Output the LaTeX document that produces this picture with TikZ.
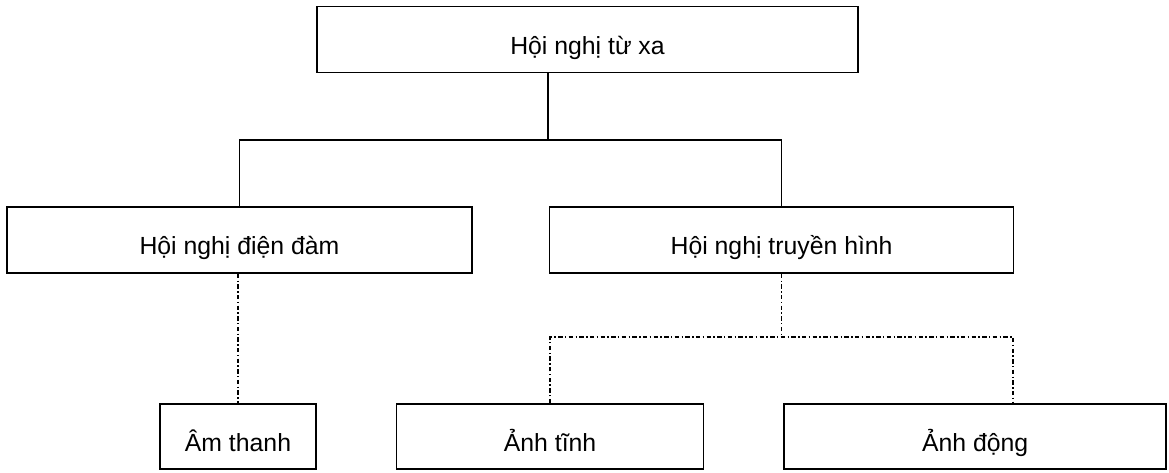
\documentclass[tikz,border=0pt]{standalone}
\usepackage{fontspec}
\setmainfont{Liberation Sans}
\usetikzlibrary{positioning}

\begin{document}
\begin{tikzpicture}[
    x=0.5pt, y=-0.5pt,
    box/.style={draw, line width=0.8pt, minimum height=33pt, inner sep=2pt, text height=16pt, text depth=1.5pt, align=center, font=\fontsize{12.4}{14}\selectfont},
    link/.style={line width=0.8pt},
    sublink/.style={line width=0.7pt, dash pattern=on 2.2pt off 1.2pt on 0.7pt off 1.2pt},
    node distance=38pt,
  ]
  \useasboundingbox (0,0) rectangle (1169,472);
  \node[box, minimum width=270.5pt] (top) at (587.5,39.5) {Hội nghị từ xa};
  \node[box, minimum width=232.5pt] (phone) at (239.5,240) {Hội nghị điện đàm};
  \node[box, minimum width=232pt, right=38pt of phone] (video) {Hội nghị truyền hình};
  \node[box, minimum width=78pt, minimum height=32.5pt] (audio) at (238,436.5) {Âm thanh};
  \node[box, minimum width=153.5pt, minimum height=32.5pt, right=39.5pt of audio] (still) {Ảnh tĩnh};
  \node[box, minimum width=191pt, minimum height=32.5pt, right=39.5pt of still] (motion) {Ảnh động};

  % solid tree from the top box
  \coordinate (split) at (548,140);
  \draw[link] (split |- top.south) -- (split);
  \draw[link] (phone.north) -- (phone.north |- split) -- (video.north |- split) -- (video.north);

  % dash-dotted branches
  \coordinate (fork) at (780,337);
  \coordinate (drop) at (1013,337);
  \draw[sublink] (audio.north |- phone.south) -- (audio.north);
  \draw[sublink] (video.south) -- (video.south |- fork);
  \draw[sublink] (still.north) |- (drop) -- (drop |- motion.north);
\end{tikzpicture}
\end{document}
